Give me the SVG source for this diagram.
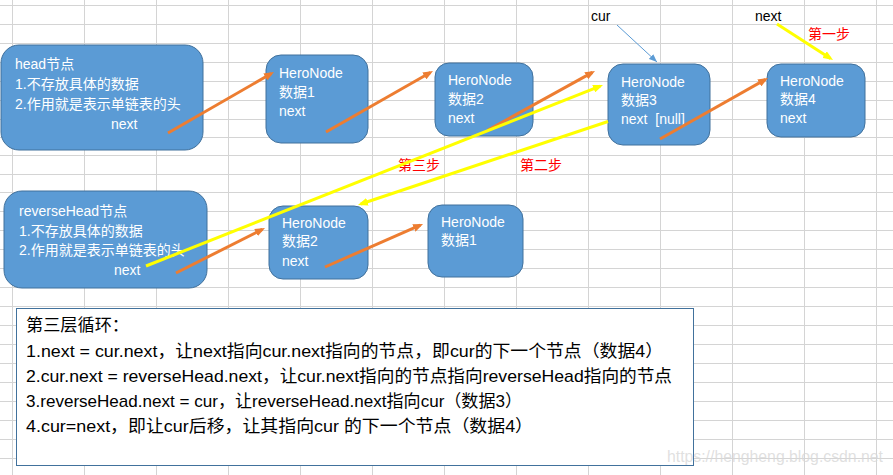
<svg xmlns="http://www.w3.org/2000/svg" width="893" height="475" viewBox="0 0 893 475">
<style>
.grid{stroke:#d4d4d4;stroke-width:1;fill:none}
.node rect{fill:#5b9bd5;stroke:#41719c;stroke-width:1}
.node text{fill:#ffffff;font-family:"Liberation Sans","Noto Sans CJK SC",sans-serif;font-size:14px}
.lbl{fill:#000000;font-family:"Liberation Sans","Noto Sans CJK SC",sans-serif;font-size:14px}
.step{fill:#ff0000;font-family:"Noto Sans CJK SC",sans-serif;font-size:14px}
.orange{stroke:#ed7d31;stroke-width:3;fill:none;marker-end:url(#ah-o)}
.yellow{stroke:#ffff00;stroke-width:3;fill:none;marker-end:url(#ah-y)}
.blue{stroke:#5b9bd5;stroke-width:1;fill:none;marker-end:url(#ah-b)}
.note text{fill:#000000;font-family:"Liberation Sans","Noto Sans CJK SC",sans-serif;font-size:17px}
</style>
<defs>
<marker id="ah-o" viewBox="0 0 10 8" markerWidth="10" markerHeight="8" refX="7" refY="4" orient="auto" markerUnits="userSpaceOnUse"><path d="M0,0 L10,4 L0,8 z" fill="#ed7d31"/></marker>
<marker id="ah-y" viewBox="0 0 10 8" markerWidth="10" markerHeight="8" refX="7" refY="4" orient="auto" markerUnits="userSpaceOnUse"><path d="M0,0 L10,4 L0,8 z" fill="#ffff00"/></marker>
<marker id="ah-b" viewBox="0 0 10 8" markerWidth="8" markerHeight="7" refX="10" refY="4" orient="auto" markerUnits="userSpaceOnUse"><path d="M0,0 L10,4 L0,8 z" fill="#5b9bd5"/></marker>
</defs>
<rect x="0" y="0" width="893" height="475" fill="#ffffff"/>
<path class="grid" d="M12.5,0V475M84.5,0V475M156.5,0V475M228.5,0V475M300.5,0V475M372.5,0V475M444.5,0V475M516.5,0V475M588.5,0V475M660.5,0V475M732.5,0V475M804.5,0V475M876.5,0V475
M0,5.5H893M0,24.5H893M0,43.5H893M0,62.5H893M0,81.5H893M0,100.5H893M0,119.5H893M0,137.5H893M0,155.5H893M0,174.5H893M0,192.5H893M0,211.5H893M0,230.5H893M0,249.5H893M0,268.5H893M0,287.5H893M0,306.5H893M0,325.5H893M0,344.5H893M0,363.5H893M0,382.5H893M0,401.5H893M0,420.5H893M0,439.5H893M0,458.5H893"/>

<g id="head" class="node">
<rect x="1" y="45" width="202" height="105" rx="18"/>
<text x="15" y="69">head节点</text>
<text x="15" y="89">1.不存放具体的数据</text>
<text x="15" y="109">2.作用就是表示单链表的头</text>
<text x="111" y="129">next</text>
</g>
<g id="node1" class="node">
<rect x="266" y="55" width="102" height="88" rx="15"/>
<text x="279" y="78">HeroNode</text>
<text x="279" y="97">数据1</text>
<text x="279" y="116">next</text>
</g>
<g id="node2" class="node">
<rect x="435" y="63" width="98" height="73" rx="14"/>
<text x="448" y="85">HeroNode</text>
<text x="448" y="104">数据2</text>
<text x="448" y="123">next</text>
</g>
<g id="node3" class="node">
<rect x="608" y="64" width="102" height="81" rx="15"/>
<text x="621" y="87">HeroNode</text>
<text x="621" y="105">数据3</text>
<text x="621" y="124">next&#160; [null]</text>
</g>
<g id="node4" class="node">
<rect x="767" y="64" width="98" height="73" rx="14"/>
<text x="780" y="86">HeroNode</text>
<text x="780" y="104">数据4</text>
<text x="780" y="123">next</text>
</g>
<g id="reverseHead" class="node">
<rect x="4" y="191" width="203" height="97" rx="18"/>
<text x="19" y="216">reverseHead节点</text>
<text x="19" y="236">1.不存放具体的数据</text>
<text x="19" y="255">2.作用就是表示单链表的头</text>
<text x="114" y="275">next</text>
</g>
<g id="rnode2" class="node">
<rect x="269" y="206" width="99" height="73" rx="14"/>
<text x="282" y="228">HeroNode</text>
<text x="282" y="246">数据2</text>
<text x="282" y="266">next</text>
</g>
<g id="rnode1" class="node">
<rect x="428" y="205" width="95" height="72" rx="14"/>
<text x="441" y="227">HeroNode</text>
<text x="441" y="245">数据1</text>
</g>

<g id="labels">
<text class="lbl" x="591" y="21">cur</text>
<text class="lbl" x="755" y="21">next</text>
<text class="step" x="808" y="39">第一步</text>
<text class="step" x="398" y="170">第三步</text>
<text class="step" x="520" y="170">第二步</text>
</g>

<g id="connectors">
<line class="orange" x1="168" y1="133" x2="271.4" y2="73.5"/>
<line class="orange" x1="326" y1="132" x2="430.4" y2="72.5"/>
<line class="orange" x1="488" y1="130" x2="592.4" y2="72.4"/>
<line class="orange" x1="660" y1="139" x2="765.4" y2="79.5"/>
<line class="orange" x1="176" y1="273" x2="262.3" y2="229.4"/>
<line class="orange" x1="325" y1="267" x2="420.3" y2="225.2"/>
<line class="yellow" x1="146" y1="266" x2="600.2" y2="86.1"/>
<line class="yellow" x1="608" y1="121.5" x2="360.8" y2="204"/>
<line class="yellow" x1="777" y1="24" x2="830.5" y2="58.4"/>
<line class="blue" x1="617" y1="25" x2="657" y2="62"/>
</g>

<g id="note" class="note">
<rect x="16.5" y="308.5" width="677" height="157" fill="#ffffff" stroke="#41719c" stroke-width="1"/>
<text x="26" y="331" textLength="103" lengthAdjust="spacingAndGlyphs">第三层循环：</text>
<text x="26" y="357" textLength="637" lengthAdjust="spacingAndGlyphs">1.next = cur.next，让next指向cur.next指向的节点，即cur的下一个节点（数据4）</text>
<text x="26" y="382" textLength="646" lengthAdjust="spacingAndGlyphs">2.cur.next = reverseHead.next，让cur.next指向的节点指向reverseHead指向的节点</text>
<text x="26" y="407" textLength="496" lengthAdjust="spacingAndGlyphs">3.reverseHead.next = cur，让reverseHead.next指向cur（数据3）</text>
<text x="26" y="432" textLength="507" lengthAdjust="spacingAndGlyphs">4.cur=next，即让cur后移，让其指向cur 的下一个节点（数据4）</text>
</g>
<text x="667" y="462" fill="#d8d8d8" fill-opacity="0.8" font-family="Liberation Sans, sans-serif" font-size="16" textLength="216" lengthAdjust="spacingAndGlyphs">https://hengheng.blog.csdn.net</text>
</svg>
